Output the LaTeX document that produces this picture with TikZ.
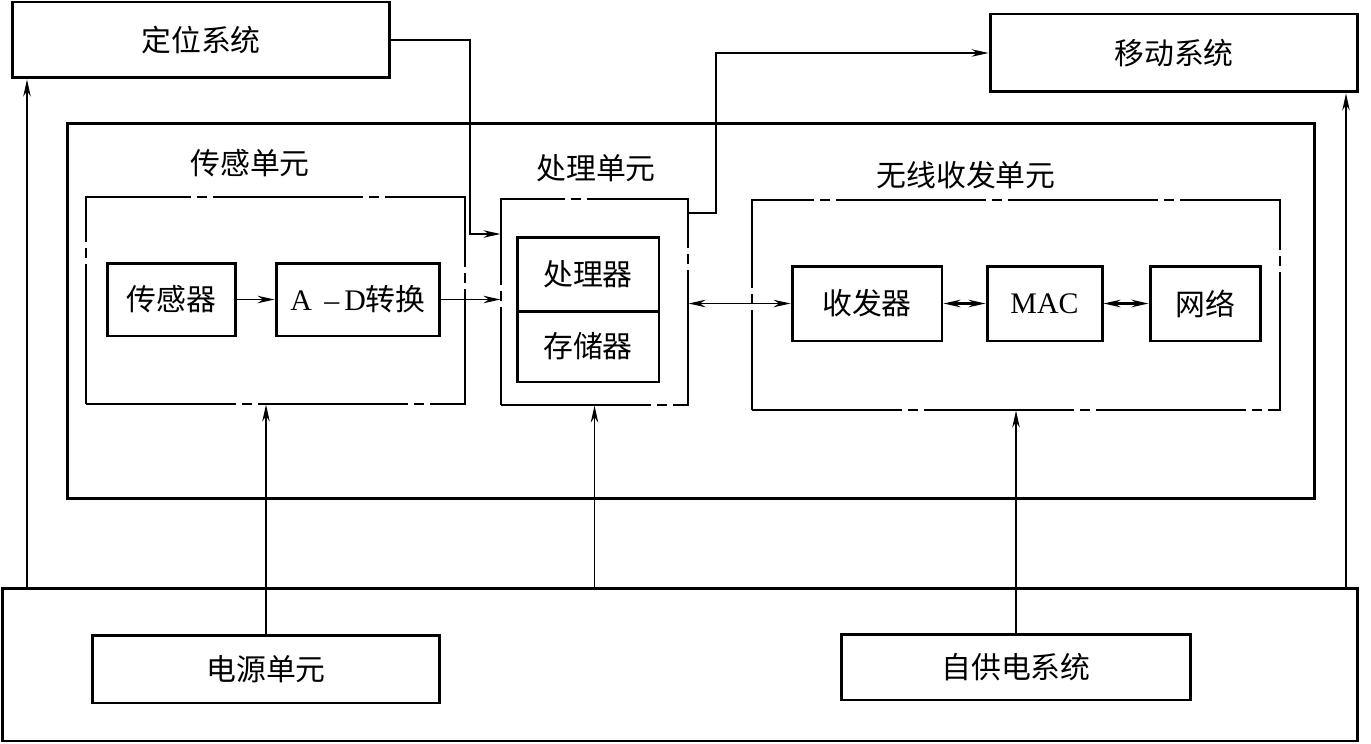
\documentclass[tikz,border=0pt]{standalone}
\usepackage{fontspec}
\setmainfont{Liberation Serif}
\newfontfamily\cjk{Noto Sans CJK SC}
\usetikzlibrary{arrows.meta,calc}

\begin{document}
\begin{tikzpicture}[x=0.02cm,y=-0.02cm,>={Stealth[length=3.4mm,width=1.5mm]}]
\tikzstyle{B}=[draw,line width=1.7pt,inner sep=0pt,align=center,font=\cjk\fontsize{17}{20}\selectfont]
\tikzstyle{U}=[draw,line width=0.7pt,inner sep=0pt,dash pattern=on 3cm off 0.12cm on 0.2cm off 0.12cm]
\tikzstyle{T}=[font=\cjk\fontsize{17}{20}\selectfont]
\tikzstyle{C}=[->,line width=0.7pt]
\useasboundingbox (0,0) rectangle (1371,743);
% outer systems
\node[B,minimum width=7.56cm,minimum height=1.52cm] (dw) at (201,40) {定位系统};
\node[B,minimum width=7.36cm,minimum height=1.56cm] (yd) at (1174,53) {移动系统};
\node[B,minimum width=24.96cm,minimum height=7.52cm] (zj) at (691,311) {};
\node[B,minimum width=27.12cm,minimum height=3.06cm] (dy) at (680,664.5) {};
% sensing unit
\node[U,minimum width=7.58cm,minimum height=4.14cm] (cg) at (275.5,300.5) {};
\node[T] at (250,163) {传感单元};
\node[B,minimum width=2.58cm,minimum height=1.46cm] (cgq) at (171.5,299.5) {传感器};
\node[B,minimum width=3.28cm,minimum height=1.46cm] (ad) at (358,299.5) {{\rmfamily A\ \,--\,D}转换};
% processing unit
\node[U,minimum width=3.74cm,minimum height=4.12cm] (cl) at (594.5,302) {};
\node[T] at (596,168) {处理单元};
\node[B,minimum width=2.84cm,minimum height=1.48cm] (clq) at (588,274) {处理器};
\node[B,minimum width=2.84cm,minimum height=1.42cm] (ccq) at (588,346.5) {存储器};
% wireless unit
\node[U,minimum width=10.56cm,minimum height=4.2cm] (wx) at (1016,305) {};
\node[T] at (966,175) {无线收发单元};
\node[B,minimum width=3cm,minimum height=1.5cm] (sfq) at (867,303.5) {收发器};
\node[B,minimum width=2.3cm,minimum height=1.5cm] (mac) at (1044.5,303.5) {\rmfamily MAC};
\node[B,minimum width=2.2cm,minimum height=1.5cm] (wl) at (1205,303.5) {网络};
% power
\node[B,minimum width=6.96cm,minimum height=1.36cm] (dyd) at (266,669) {电源单元};
\node[B,minimum width=7cm,minimum height=1.32cm] (zgd) at (1016,667) {自供电系统};
% connectors
\coordinate (k1) at (470,234); \coordinate (k2) at (716,213);
\coordinate (p1) at (27,588); \coordinate (p2) at (1346,588);
\draw[C] (dw.east) -| (k1) -- (k1 -| cl.west);
\draw[C] (k2 -| cl.east) -- (k2) |- (yd.west);
\draw[C] (cgq) -- (ad); \draw[C] (ad.east) -- (ad.east -| cl.west);
\draw[C,<->] (sfq.west -| cl.east) -- (sfq.west);
\draw[C,<->,line width=1.2pt] (sfq) -- (mac); \draw[C,<->,line width=1.2pt] (mac) -- (wl);
\draw[C] (p1) -- (p1 |- dw.south); \draw[C] (p2) -- (p2 |- yd.south);
\draw[C] (dyd.north) -- (dyd.north |- cg.south);
\draw[C] (cl.south |- dy.north) -- (cl.south);
\draw[C] (zgd.north) -- (zgd.north |- wx.south);
\end{tikzpicture}
\end{document}
